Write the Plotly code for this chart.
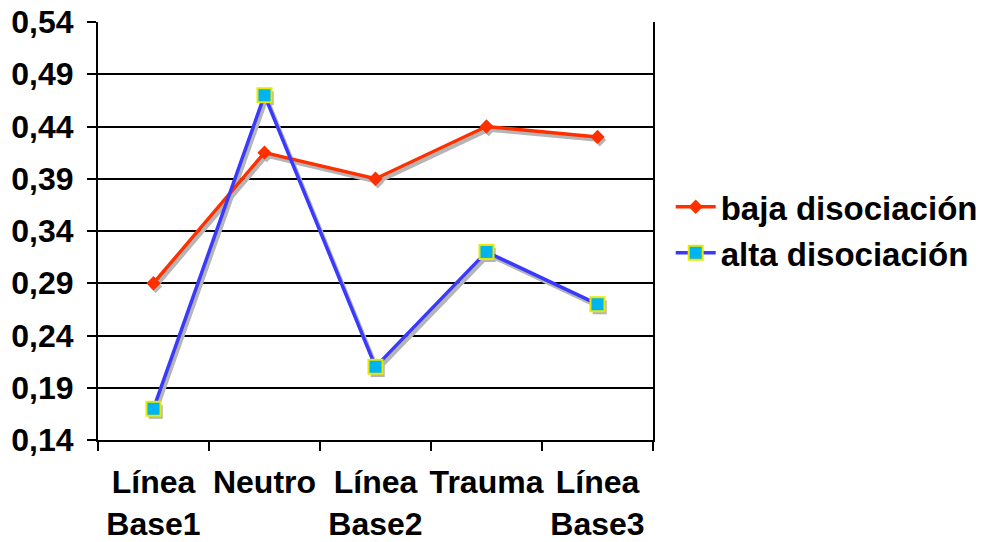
import plotly.graph_objects as go

# Conditions and mean values per group
categories = ["Línea<br>Base1", "Neutro", "Línea<br>Base2", "Trauma", "Línea<br>Base3"]
baja = [0.29, 0.415, 0.39, 0.44, 0.43]
alta = [0.17, 0.47, 0.21, 0.32, 0.27]
y_ticks = [0.14, 0.19, 0.24, 0.29, 0.34, 0.39, 0.44, 0.49, 0.54]
y_tick_text = [f"{v:.2f}".replace(".", ",") for v in y_ticks]

FONT = "Liberation Sans, Arial, sans-serif"
y_range = [0.14, 0.54]
x_range = [-0.5, 4.5]

# Drop shadow: same series on a hidden base axis pair whose ranges are nudged
# a few pixels so the gray copy sits just below/right of the coloured lines.
dy = 0.003
dx = 0.02

fig = go.Figure()

for series, sym, size in [(baja, "diamond", 10), (alta, "square", 14)]:
    fig.add_trace(go.Scatter(
        x=categories, y=series, mode="lines+markers",
        line=dict(color="#b5b5b5", width=4),
        marker=dict(symbol=sym, size=size, color="#b5b5b5"),
        xaxis="x", yaxis="y", showlegend=False, hoverinfo="skip",
    ))

fig.add_trace(go.Scatter(
    x=categories, y=baja, mode="lines+markers", name="baja disociación",
    line=dict(color="#ff3000", width=3.5),
    marker=dict(symbol="diamond", size=11, color="#ff3000"),
    xaxis="x2", yaxis="y2",
))
fig.add_trace(go.Scatter(
    x=categories, y=alta, mode="lines+markers", name="alta disociación",
    line=dict(color="#3a3aff", width=3.5),
    marker=dict(symbol="square", size=14, color="#00b4f0",
                line=dict(color="#e8e800", width=2)),
    xaxis="x2", yaxis="y2",
))

fig.update_layout(
    width=982, height=542,
    margin=dict(l=98, r=329, t=22, b=102, autoexpand=False),
    paper_bgcolor="white", plot_bgcolor="white",
    font=dict(family=FONT, size=31, color="black"),
    xaxis=dict(type="category", categoryarray=categories,
               range=[x_range[0] - dx, x_range[1] - dx],
               visible=False, fixedrange=True, automargin=False),
    yaxis=dict(range=[y_range[0] + dy, y_range[1] + dy],
               visible=False, fixedrange=True, automargin=False),
    xaxis2=dict(type="category", categoryarray=categories, range=x_range,
                overlaying="x", side="bottom", automargin=False,
                showgrid=False, showline=True, linecolor="black", linewidth=2,
                ticks="outside", tickson="boundaries", ticklen=9,
                tickcolor="black", tickwidth=2, tickangle=0,
                tickfont=dict(family=FONT, size=32, color="black", weight="bold"),
                ticklabelstandoff=13),
    yaxis2=dict(range=y_range, overlaying="y", side="left", automargin=False,
                tickvals=y_ticks, ticktext=y_tick_text,
                showgrid=True, gridcolor="black", gridwidth=2,
                showline=True, linecolor="black", linewidth=2, mirror=True,
                ticks="outside", ticklen=9, tickcolor="black", tickwidth=2,
                tickfont=dict(family=FONT, size=32, color="black", weight="bold"),
                ticklabelstandoff=7, zeroline=False),
    legend=dict(xref="container", yref="container", x=0.683, y=0.576,
                xanchor="left", yanchor="middle",
                font=dict(family=FONT, size=33, color="black", weight="bold"),
                bgcolor="rgba(0,0,0,0)", tracegroupgap=0, itemwidth=40),
    showlegend=True,
)

fig.write_html("out.html")
